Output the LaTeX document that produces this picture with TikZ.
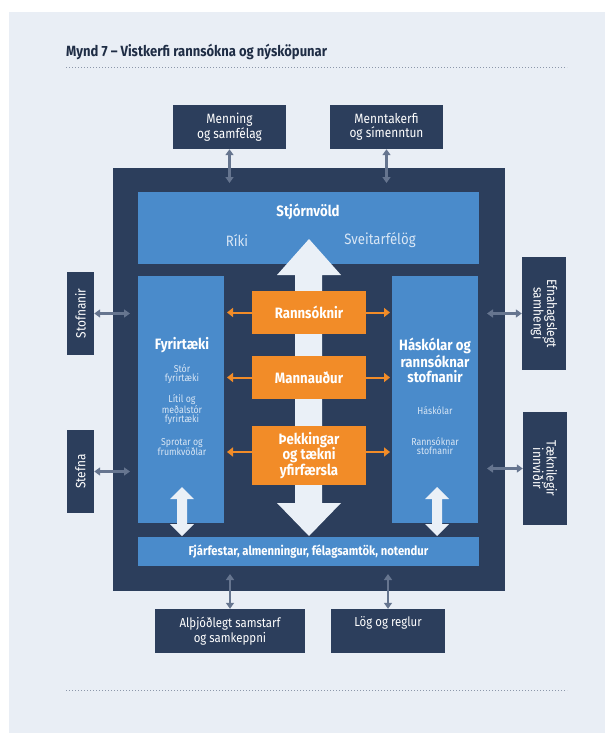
\documentclass[tikz,border=0pt]{standalone}
\usepackage{fontspec}
\setmainfont{Fira Sans}[FakeStretch=0.88]
\usetikzlibrary{arrows.meta}
\definecolor{panel}{HTML}{E9EEF5}
\definecolor{navy}{HTML}{2C3E5C}
\definecolor{midblue}{HTML}{4A8BCB}
\definecolor{orng}{HTML}{F28C28}
\definecolor{warrow}{HTML}{EAF0F7}
\definecolor{conn}{HTML}{66758F}
\definecolor{titlec}{HTML}{1F2D45}
\definecolor{subtxt}{HTML}{D8E6F5}
\definecolor{dotc}{HTML}{8C97AA}
\tikzset{
  navybox/.style={fill=navy, inner sep=0pt, text=white, align=center,
    font=\fontsize{13.5}{14.5}\selectfont},
  bluebox/.style={fill=midblue, inner sep=0pt},
  orangebox/.style={fill=orng, inner sep=0pt, text=white, align=center,
    font=\bfseries\fontsize{15}{15.5}\selectfont},
  conline/.style={draw=conn, line width=2.2pt,
    {Triangle[width=8pt,length=6pt]}-{Triangle[width=8pt,length=6pt]}},
  orline/.style={draw=orng, line width=2pt, -{Triangle[width=9pt,length=6pt]}},
  dotline/.style={draw=dotc, line width=1pt, dash pattern=on 1pt off 2pt},
  headtxt/.style={text=white, align=center, font=\bfseries\fontsize{15}{15.5}\selectfont},
  subtext/.style={text=subtxt, align=center, font=\fontsize{10}{9}\selectfont},
  midtxt/.style={text=subtxt, font=\fontsize{15}{16}\selectfont},
}
\begin{document}
\begin{tikzpicture}[x=1pt,y=-1pt]
\useasboundingbox (0,0) rectangle (605,733);
\fill[white] (0,0) rectangle (605,733);
\fill[panel] (9,12) rectangle (605,733);

% title and dotted rules
\node[anchor=west, text=titlec, font=\bfseries\fontsize{14.8}{16}\selectfont, inner sep=0pt]
  (title) at (66,52) {Mynd 7 – Vistkerfi rannsókna og nýsköpunar};
\draw[dotline] (66,68) -- (567,68);
\draw[dotline] (66,690) -- (567,690);

% outer ecosystem box
\node[fill=navy, inner sep=0pt, minimum width=392, minimum height=423] (eco) at (309,379.5) {};

% inner blue boxes
\node[bluebox, minimum width=341, minimum height=72] (gov) at (308.5,228) {};
\node[headtxt] (govt) at (308,212) {Stjórnvöld};
\node[midtxt] (riki) at (237,240) {Ríki};
\node[midtxt] (sveit) at (380,240) {Sveitarfélög};

\node[bluebox, minimum width=86, minimum height=247] (fyr) at (181,399.5) {};
\node[bluebox, minimum width=86, minimum height=247] (hask) at (435,399.5) {};
\node[bluebox, minimum width=341, minimum height=29, text=white,
  font=\bfseries\fontsize{12.8}{15}\selectfont] (fjar) at (308.5,551.5)
  {Fjárfestar, almenningur, félagsamtök, notendur};

% big white double arrow
\fill[warrow] (295,275) -- (277,275) -- (309,239) -- (341,275) -- (322,275)
  -- (322,503) -- (341,503) -- (309,536) -- (277,503) -- (295,503) -- cycle;
% small white double arrows
\foreach \cx in {182,437}{
  \fill[warrow] (\cx-5,499) -- (\cx-12,499) -- (\cx,487) -- (\cx+12,499) -- (\cx+5,499)
    -- (\cx+5,524) -- (\cx+12,524) -- (\cx,536) -- (\cx-12,524) -- (\cx-5,524) -- cycle;
}

% texts in side boxes
\node[headtxt] (fyrt) at (182,345) {Fyrirtæki};
\node[subtext] (fyr1) at (182,374.5) {Stór\\fyrirtæki};
\node[subtext] (fyr2) at (182,409.5) {Lítil og\\meðalstór\\fyrirtæki};
\node[subtext] (fyr3) at (182,447) {Sprotar og\\frumkvöðlar};

\node[headtxt] (haskt) at (435,360.5) {Háskólar og\\rannsóknar\\stofnanir};
\node[subtext] (hask1) at (435,411) {Háskólar};
\node[subtext] (hask2) at (435,446.5) {Rannsóknar\\stofnanir};

% orange boxes
\node[orangebox, minimum width=114, minimum height=43] (rann) at (309,312.5) {Rannsóknir};
\node[orangebox, minimum width=114, minimum height=43] (mann) at (309,377.5) {Mannauður};
\node[orangebox, minimum width=114, minimum height=59] (thekk) at (309,455.5)
  {Þekkingar\\og tækni\\yfirfærsla};

\coordinate (rL) at (227,312.5);  \coordinate (rR) at (390,312.5);
\coordinate (mL) at (227,377.5);  \coordinate (mR) at (390,377.5);
\coordinate (tL) at (227,452);    \coordinate (tR) at (390,452);
\draw[orline] (rann.west) -- (rL);
\draw[orline] (rann.east) -- (rR);
\draw[orline] (mann.west) -- (mL);
\draw[orline] (mann.east) -- (mR);
\draw[orline] (thekk.west |- tL) -- (tL);
\draw[orline] (thekk.east |- tR) -- (tR);

% outer context boxes
\node[navybox, minimum width=113, minimum height=44] (menn) at (229.5,127) {Menning\\og samfélag};
\node[navybox, minimum width=113, minimum height=44] (mennt) at (386.5,127) {Menntakerfi\\og símenntun};
\node[navybox, font=\fontsize{13}{15}\selectfont, minimum width=150, minimum height=44] (althj) at (230,631) {Alþjóðlegt samstarf\\og samkeppni};
\node[navybox, font=\fontsize{13}{15}\selectfont, minimum width=114, minimum height=44] (log) at (388,631) {Lög og reglur\\\strut};
\node[navybox, minimum width=83, minimum height=27, rotate=90] (stofn) at (80.5,313.5) {Stofnanir};
\node[navybox, minimum width=83, minimum height=27, rotate=90] (stefna) at (80.5,471.5) {Stefna};
\node[navybox, minimum width=113, minimum height=44, rotate=-90,
  font=\fontsize{13.5}{13.5}\selectfont] (efna) at (544,313.5) {Efnahagslegt\\samhengi};
\node[navybox, minimum width=113, minimum height=44, rotate=-90,
  font=\fontsize{13.5}{13.5}\selectfont] (taekn) at (545,468.5) {Tæknilegir\\innviðir};

% gray connectors
\coordinate (c1) at (229.5,183);
\coordinate (c2) at (386.5,183);
\coordinate (c3) at (230,574);
\coordinate (c4) at (388,574);
\coordinate (c5) at (130,313.5);
\coordinate (c6) at (130,471.5);
\coordinate (c7) at (487,313.5);
\coordinate (c8) at (487,468.5);
\draw[conline] (menn.south) -- (c1);
\draw[conline] (mennt.south) -- (c2);
\draw[conline] (althj.north) -- (c3);
\draw[conline] (log.north) -- (c4);
\draw[conline] (stofn.south) -- (c5);
\draw[conline] (stefna.south) -- (c6);
\draw[conline] (efna.south) -- (c7);
\draw[conline] (taekn.south) -- (c8);
\end{tikzpicture}
\end{document}
